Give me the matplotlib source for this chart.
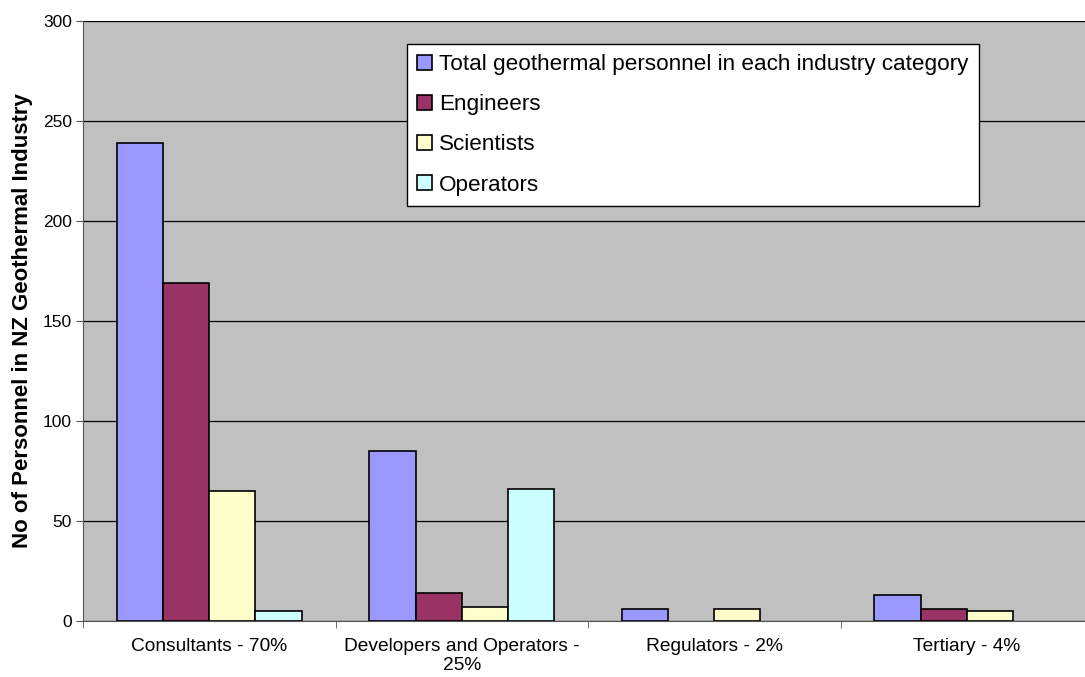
import matplotlib
matplotlib.use("Agg")
import matplotlib.pyplot as plt
import numpy as np

plt.rcParams['font.family'] = ['Liberation Sans', 'DejaVu Sans']

# data
categories = ['Consultants - 70%', 'Developers and Operators -\n25%',
              'Regulators - 2%', 'Tertiary - 4%']
series_names = ['Total geothermal personnel in each industry category',
                'Engineers', 'Scientists', 'Operators']
total = [239, 85, 6, 13]
engineers = [169, 14, 0, 6]
scientists = [65, 7, 6, 5]
operators = [5, 66, 0, 0]
colors = ['#9999FF', '#993366', '#FFFFCC', '#CCFFFF']

fig = plt.figure(figsize=(10.85, 6.77), dpi=100)
ax = fig.add_axes([83 / 1085, 1 - 621 / 677, 1010 / 1085, 600 / 677])
ax.set_facecolor('#C0C0C0')

x = np.arange(len(categories))
width = 0.183
for i, (vals, c, name) in enumerate(zip([total, engineers, scientists, operators], colors, series_names)):
    vals = np.array(vals, dtype=float)
    pos = x - 1.5 * width + i * width
    # empty categories get no bar (Excel draws nothing for 0)
    keep = vals > 0
    ax.bar(pos[keep], vals[keep], width, color=c, edgecolor='black', linewidth=1.2, label=name, zorder=3)

ax.set_xlim(-0.5, len(categories) - 0.5)
ax.set_ylim(0, 300)
ax.set_yticks(range(0, 301, 50))
ax.yaxis.grid(True, color='black', linewidth=0.9, zorder=0)
ax.set_axisbelow(True)

ax.set_xticks(x)
ax.set_xticklabels(categories, fontsize=13.8, linespacing=1.2)
ax.tick_params(axis='x', which='major', length=0, pad=12)
ax.set_xticks(np.arange(-0.5, len(categories), 1), minor=True)
ax.tick_params(axis='x', which='minor', length=5, direction='out', color='#555555')
ax.tick_params(axis='y', labelsize=12.5, length=5, pad=3, direction='out', colors='#555555', labelcolor='black')

for s in ['top', 'right']:
    ax.spines[s].set_visible(False)
ax.spines['left'].set_color('#555555')
ax.spines['bottom'].set_color('#555555')

ax.set_ylabel('No of Personnel in NZ Geothermal Industry', fontsize=16, fontweight='bold')
ax.yaxis.set_label_coords(-50 / 1010, 0.5)

leg = ax.legend(loc='upper left', bbox_to_anchor=(324 / 1010, 577 / 600), fontsize=16.2,
                frameon=True, fancybox=False, edgecolor='black', facecolor='white',
                framealpha=1, handlelength=0.68, handleheight=0.68, handletextpad=0.3,
                labelspacing=0.85, borderpad=0.45, borderaxespad=0)
leg.get_frame().set_linewidth(1.0)

plt.savefig('out.png', dpi=100)
